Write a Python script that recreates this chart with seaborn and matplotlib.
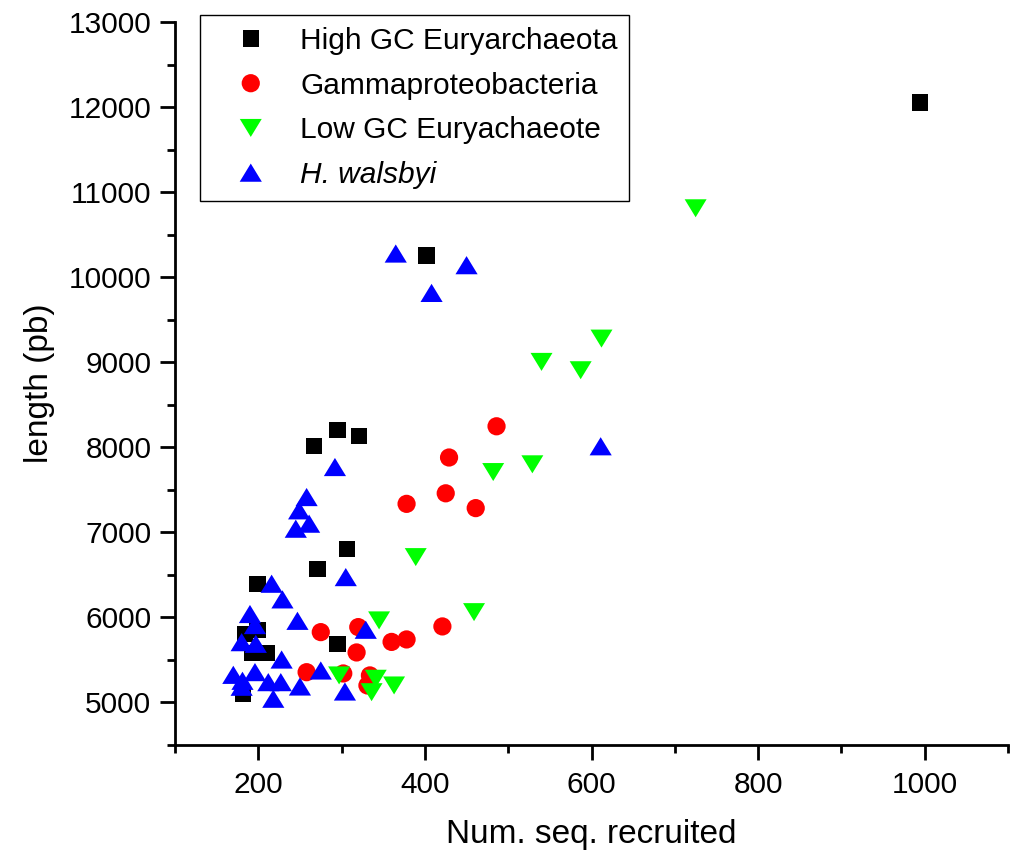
import numpy as np
import pandas as pd
import matplotlib
matplotlib.use("Agg")
import matplotlib.pyplot as plt
from matplotlib.ticker import MultipleLocator
import seaborn as sns

# ---- data: recruited sequences vs. fragment length ----
series_names = ["High GC Euryarchaeota", "Gammaproteobacteria",
                "Low GC Euryachaeote", "H. walsbyi"]

high_gc_x = [994, 402, 295, 321, 267, 307, 271, 199, 295, 184, 199, 192, 210, 182]
high_gc_y = [12054, 10255, 8200, 8131, 8013, 6808, 6573, 6396, 5690, 5808, 5855, 5580, 5585, 5095]

gamma_x = [486, 429, 425, 378, 461, 275, 320, 360, 378, 421, 318, 258, 302, 334, 331]
gamma_y = [8247, 7880, 7459, 7335, 7285, 5827, 5886, 5712, 5741, 5894, 5588, 5356, 5341, 5318, 5200]

low_gc_x = [725, 612, 540, 587, 529, 482, 389, 459, 345, 297, 341, 336, 363]
low_gc_y = [10810, 9278, 9004, 8906, 7800, 7709, 6709, 6062, 5965, 5318, 5279, 5121, 5200]

walsbyi_x = [365, 450, 408, 611, 292, 258, 249, 261, 245, 305, 216, 229, 190, 247, 196,
             329, 180, 197, 228, 275, 196, 170, 181, 180, 212, 227, 250, 304, 218]
walsbyi_y = [10278, 10141, 9815, 8012, 7768, 7415, 7259, 7102, 7043, 6474, 6396, 6212, 6040,
             5960, 5910, 5855, 5709, 5690, 5505, 5376, 5357, 5325, 5255, 5185, 5239, 5239,
             5188, 5129, 5044]

xs = [high_gc_x, gamma_x, low_gc_x, walsbyi_x]
ys = [high_gc_y, gamma_y, low_gc_y, walsbyi_y]

# ---- styling ----
up_tri = np.array([(-1.0, -0.82), (1.0, -0.82), (0.0, 0.82), (-1.0, -0.82)])
down_tri = np.array([(-1.0, 0.82), (1.0, 0.82), (0.0, -0.82), (-1.0, 0.82)])
colors = ["#000000", "#ff0000", "#00ff00", "#0000ff"]
markers = ["s", "o", down_tri, up_tri]
sizes = [135, 172, 250, 255]

sns.set_style("ticks")
plt.rcParams["font.family"] = ["Liberation Sans", "DejaVu Sans"]
plt.rcParams["text.color"] = "black"
plt.rcParams["axes.labelcolor"] = "black"
plt.rcParams["xtick.color"] = "black"
plt.rcParams["ytick.color"] = "black"

W, H = 1016, 864
fig = plt.figure(figsize=(W / 100, H / 100), dpi=100)
ax = fig.add_axes([175 / W, 1 - 745 / H, 833 / W, 723 / H])

for name, x, y, c, m, s in zip(series_names, xs, ys, colors, markers, sizes):
    df = pd.DataFrame({"x": x, "y": y})
    sns.scatterplot(data=df, x="x", y="y", ax=ax, color=c, marker=m, s=s,
                    linewidth=0, edgecolor="none", label=name, legend=False)

ax.set_xlim(100, 1100)
ax.set_ylim(4500, 13000)
ax.xaxis.set_major_locator(MultipleLocator(200))
ax.xaxis.set_minor_locator(MultipleLocator(100))
ax.yaxis.set_major_locator(MultipleLocator(1000))
ax.yaxis.set_minor_locator(MultipleLocator(500))

for side in ["top", "right"]:
    ax.spines[side].set_visible(False)
for side in ["left", "bottom"]:
    ax.spines[side].set_linewidth(2.0)
    ax.spines[side].set_color("black")

ax.tick_params(axis="both", which="major", direction="out", length=11, width=2.0,
               labelsize=21.5, colors="black", labelcolor="black")
ax.tick_params(axis="both", which="minor", direction="out", length=5.5, width=2.0,
               colors="black")
ax.tick_params(axis="x", which="major", pad=8)
ax.tick_params(axis="y", which="major", pad=6)

ax.set_xlabel("Num. seq. recruited", fontsize=24, labelpad=14, color="black")
ax.set_ylabel("length (pb)", fontsize=24, labelpad=10, color="black")

leg = ax.legend(loc="upper left", bbox_to_anchor=(200 / W, 1 - 15 / H),
                bbox_transform=fig.transFigure, borderaxespad=0,
                fontsize=21.5, frameon=True, fancybox=False, shadow=False,
                edgecolor="black", framealpha=1, markerscale=1.0,
                scatteryoffsets=[0.5], handlelength=2.6, handletextpad=0.35,
                labelspacing=0.56, borderpad=0.4, labelcolor="black")
leg.get_frame().set_linewidth(1.0)
leg.get_texts()[3].set_fontstyle("italic")

fig.savefig("out.png", dpi=100, facecolor="white")
